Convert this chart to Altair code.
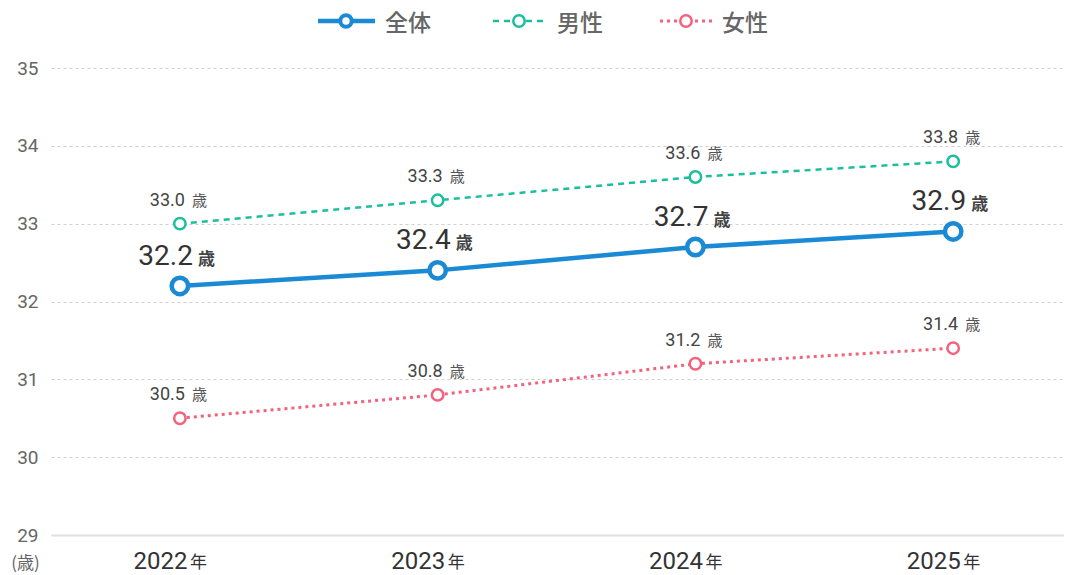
import altair as alt
import pandas as pd

years = [2022, 2023, 2024, 2025]
total = [32.2, 32.4, 32.7, 32.9]
male = [33.0, 33.3, 33.6, 33.8]
female = [30.5, 30.8, 31.2, 31.4]
series_names = ["全体", "男性", "女性"]
y_ticks = [29, 30, 31, 32, 33, 34, 35]

BLUE = "#1a8ad4"
TEAL = "#1bbf9f"
PINK = "#f2637d"
NUM_FONT = "Roboto"
JP_FONT = "Noto Sans CJK JP"

W, H = 1013, 467

def frame(vals, name):
    return pd.DataFrame({"year": years, "value": vals, "series": name,
                         "label": [f"{v:.1f}" for v in vals]})

df_t = frame(total, series_names[0])
df_m = frame(male, series_names[1])
df_f = frame(female, series_names[2])
df_years = pd.DataFrame({"year": years})

x = alt.X("year:Q", scale=alt.Scale(domain=[2021.5, 2025.43], nice=False, zero=False),
          axis=alt.Axis(values=years, format="d", grid=False, ticks=False, tickSize=0,
                        domain=True, domainColor="#e0e0e0", domainWidth=2,
                        labelFontSize=24, labelColor="#333", labelFont=NUM_FONT,
                        labelAlign="right", labelOffset=7, labelBaseline="alphabetic",
                        labelPadding=33, title=None))
y = alt.Y("value:Q", scale=alt.Scale(domain=[29, 35], nice=False, zero=False),
          axis=alt.Axis(values=y_ticks, grid=True, gridColor="#d0d0d0", gridDash=[3, 3],
                        gridWidth=1, domain=False, ticks=False, tickSize=0,
                        labelFontSize=19, labelColor="#666", labelFont=NUM_FONT,
                        labelPadding=13, title="(歳)", titleAngle=0, titleX=-26,
                        titleY=H + 33, titleAlign="center", titleBaseline="alphabetic",
                        titleFontSize=17, titleFontWeight="normal", titleColor="#666",
                        titleFont=JP_FONT))

def line(df, color, dash, sw):
    kw = dict(color=color, strokeWidth=sw)
    if dash:
        kw["strokeDash"] = dash
    return alt.Chart(df).mark_line(**kw).encode(x=x, y=y)

def pts(df, color, size, sw):
    return alt.Chart(df).mark_point(shape="circle", filled=False, fill="white", fillOpacity=1,
                                    stroke=color, strokeWidth=sw, size=size, opacity=1).encode(x=x, y=y)

def nums(df, fs, dx, dy, color):
    return alt.Chart(df).mark_text(align="right", baseline="alphabetic", dx=dx, dy=dy,
                                   fontSize=fs, font=NUM_FONT, color=color).encode(
        x=x, y=y, text="label:N")

def sai(df, fs, dx, dy, color, weight):
    return alt.Chart(df).mark_text(align="left", baseline="alphabetic", dx=dx, dy=dy,
                                   fontSize=fs, font=JP_FONT, color=color, fontWeight=weight).encode(
        x=x, y=y, text=alt.value("歳"))

nen = alt.Chart(df_years).mark_text(align="left", baseline="alphabetic", dx=10, fontSize=17,
                                   font=JP_FONT, color="#333").encode(
    x=x, y=alt.value(H + 33), text=alt.value("年"))

# legend
def legend_item(x1, x2, cx, tx, color, dash, sw, size, psw, name):
    kw = dict(color=color, strokeWidth=sw)
    if dash:
        kw["strokeDash"] = dash
    r = alt.Chart(df_years.head(1)).mark_rule(**kw).encode(
        x=alt.value(x1), x2=alt.value(x2), y=alt.value(-47))
    p = alt.Chart(df_years.head(1)).mark_point(shape="circle", filled=False, fill="white",
                                               fillOpacity=1, stroke=color, strokeWidth=psw,
                                               size=size, opacity=1).encode(
        x=alt.value(cx), y=alt.value(-47))
    t = alt.Chart(df_years.head(1)).mark_text(align="left", baseline="middle", fontSize=23,
                                              font=JP_FONT, color="#666", fontWeight=500).encode(
        x=alt.value(tx), y=alt.value(-44), text=alt.value(name))
    return [r, p, t]

leg = []
leg += legend_item(267, 324, 295, 334, BLUE, None, 4.5, 130, 4, series_names[0])
leg += legend_item(442, 494, 468, 506, TEAL, [6, 5], 2.5, 130, 2.5, series_names[1])
leg += legend_item(609, 661, 635, 671, PINK, [3, 4], 3, 130, 2.5, series_names[2])

chart = alt.layer(
    line(df_f, PINK, [3, 4], 3),
    line(df_m, TEAL, [6, 5], 2.5),
    line(df_t, BLUE, None, 4.5),
    pts(df_f, PINK, 130, 2.5),
    pts(df_m, TEAL, 130, 2.5),
    pts(df_t, BLUE, 270, 4.5),
    nums(df_m, 18, 5, -18, "#444"),
    sai(df_m, 15, 12, -18, "#555", "normal"),
    nums(df_f, 18, 5, -18, "#444"),
    sai(df_f, 15, 12, -18, "#555", "normal"),
    nums(df_t, 28, 13, -21, "#333"),
    sai(df_t, 17, 18, -21, "#444", "bold"),
    nen,
    *leg,
).properties(
    width=W, height=H,
    background="white",
    autosize=alt.AutoSizeParams(type="none"),
    padding={"left": 43, "top": 60, "right": 0, "bottom": 40},
).configure_view(strokeWidth=0, stroke="transparent")

chart.save("out.html", embed_options={"renderer": "svg", "actions": False})
